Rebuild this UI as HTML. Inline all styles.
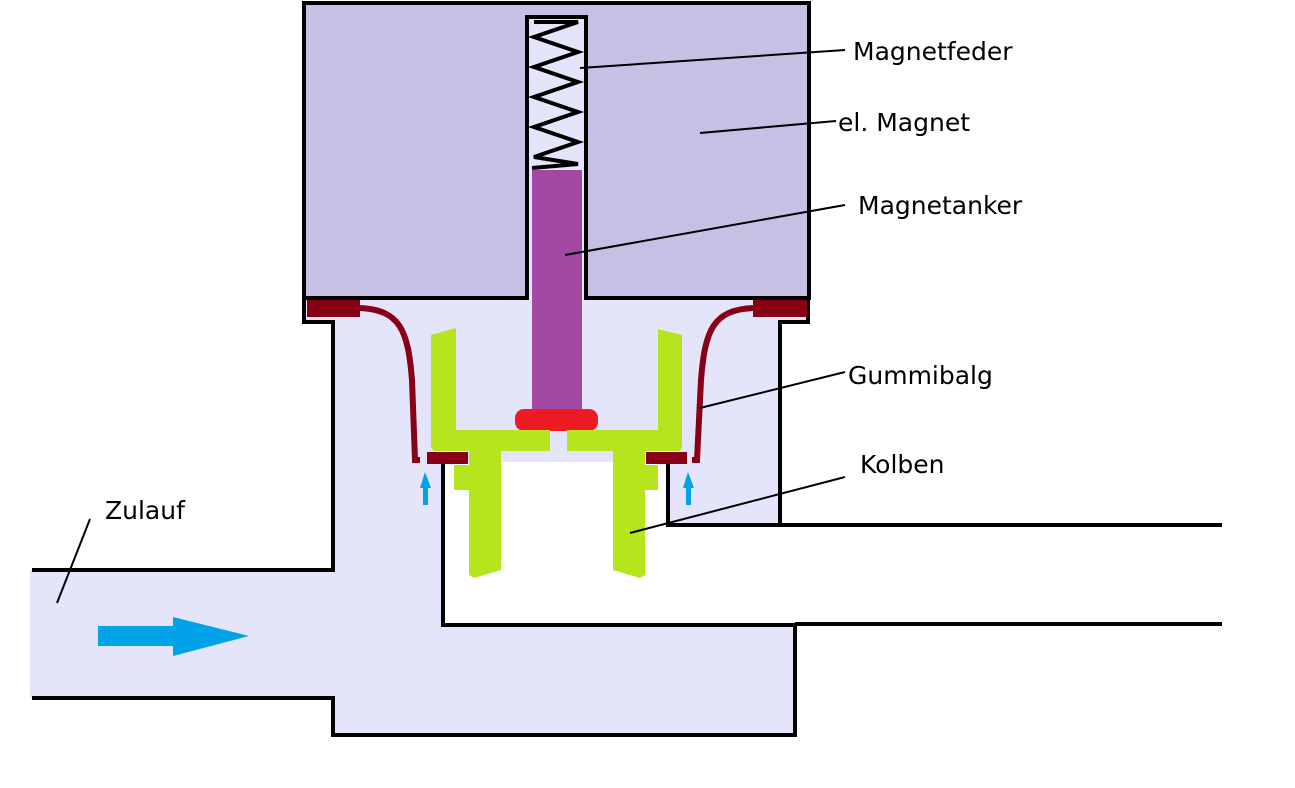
<!DOCTYPE html>
<html><head><meta charset="utf-8"><style>
html,body{margin:0;padding:0;background:#fff;}
svg{display:block;}
text{font-family:"DejaVu Sans","Liberation Sans",sans-serif;font-size:25px;fill:#000;}
</style></head><body>
<svg width="1295" height="788" viewBox="0 0 1295 788" xmlns="http://www.w3.org/2000/svg">
<path d="M305,298 H808 V322 H780 V525 H668 V462 H443 V625 H795 V735 H333 V698 H30 V570 H333 V322 H305 Z" fill="#e4e4fa"/>
<g fill="none" stroke="#000" stroke-width="4">
<polyline points="304,296 304,322 333,322 333,570 32,570"/>
<polyline points="32,698 333,698 333,735 795,735 795,625 443,625 443,462"/>
<polyline points="808,296 808,322 780,322 780,525"/>
<polyline points="668,462 668,525 1222,525"/>
<line x1="795" y1="624" x2="1222" y2="624"/>
</g>
<path d="M304,3 H809 V298 H586 V17 H527 V298 H304 Z" fill="#c8c0e4" stroke="#000" stroke-width="4"/>
<rect x="529" y="19" width="55" height="279" fill="#e4e4fa"/>
<polyline fill="none" stroke="#000" stroke-width="4" points="534,22 578,22 534,37 578,52 534,67 578,82 534,97 578,112 534,127 578,142 534,157 578,164 532,168"/>
<rect x="532" y="170" width="50" height="240" fill="#a349a4"/>
<rect x="515" y="409" width="83" height="22" rx="9" fill="#ed1c24"/>
<g fill="#880015">
<rect x="307" y="300" width="53" height="17"/>
<rect x="753" y="300" width="54" height="17"/>
<rect x="427" y="452" width="41" height="12"/>
<rect x="646" y="452" width="41" height="12"/>
</g>
<path d="M360,308 C400,310 408,330 412,380 L415,460 L420,460" fill="none" stroke="#880015" stroke-width="6"/>
<path d="M753,308 C713,310 705,330 701,380 L697,460 L692,460" fill="none" stroke="#880015" stroke-width="6"/>
<g fill="#b5e51d">
<path d="M431,335 L456,328 V430 H550 V451 H501 V570 L474,578 L469,575 V490 H454 V465 H469 V451 H434 L431,447 Z"/>
<path d="M682,335 L658,329 V430 H567 V451 H613 V570 L640,578 L645,575 V490 H658 V465 H645 V451 H680 L682,447 Z"/>
</g>
<g fill="#00a2e8">
<rect x="423" y="484" width="5" height="21"/><polygon points="425,472 420,488 431,488"/>
<rect x="686" y="484" width="5" height="21"/><polygon points="688,472 683,488 694,488"/>
<rect x="98" y="626" width="77" height="20"/><polygon points="173,617 173,656 249,636"/>
</g>
<g stroke="#000" stroke-width="2">
<line x1="580" y1="68" x2="845" y2="50"/>
<line x1="700" y1="133" x2="836" y2="121"/>
<line x1="565" y1="255" x2="845" y2="205"/>
<line x1="700" y1="408" x2="845" y2="372"/>
<line x1="630" y1="533" x2="845" y2="477"/>
<line x1="57" y1="603" x2="90" y2="519"/>
</g>
<text x="853" y="60">Magnetfeder</text>
<text x="838" y="131">el. Magnet</text>
<text x="858" y="214">Magnetanker</text>
<text x="848" y="384">Gummibalg</text>
<text x="860" y="473">Kolben</text>
<text x="105" y="519">Zulauf</text>
</svg>
</body></html>
